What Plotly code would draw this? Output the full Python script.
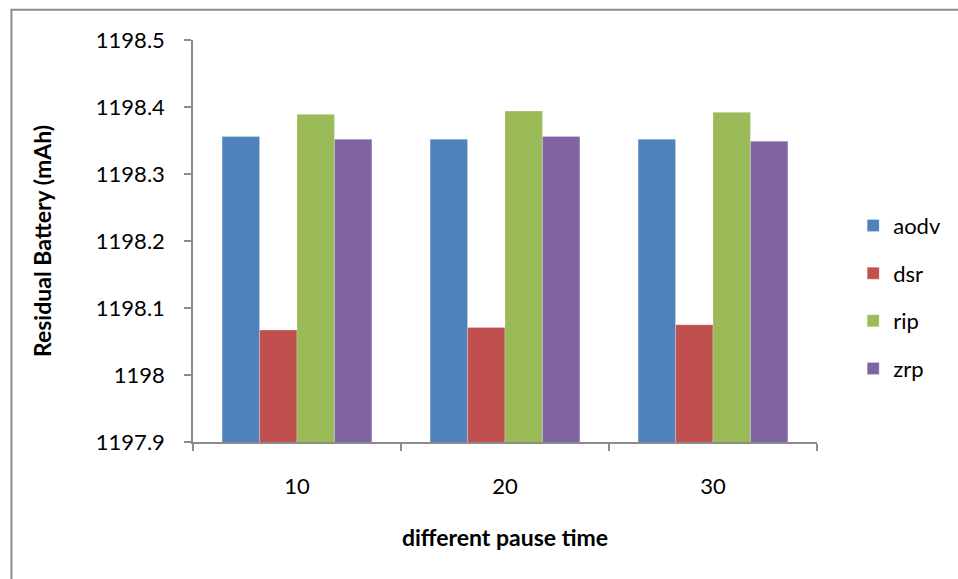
import plotly.graph_objects as go

categories = ["10", "20", "30"]
aodv = [1198.356, 1198.352, 1198.352]
dsr = [1198.067, 1198.071, 1198.075]
rip = [1198.389, 1198.394, 1198.392]
zrp = [1198.352, 1198.356, 1198.349]
series_names = ["aodv", "dsr", "rip", "zrp"]
series_values = [aodv, dsr, rip, zrp]
colors = ["#4F81BD", "#C0504D", "#9BBB59", "#8064A2"]
y_ticks = [1197.9, 1198, 1198.1, 1198.2, 1198.3, 1198.4, 1198.5]
y_tick_text = ["1197.9", "1198", "1198.1", "1198.2", "1198.3", "1198.4", "1198.5"]

FONT = "Lato, Carlito, Calibri, sans-serif"

fig = go.Figure()
for name, vals, col in zip(series_names, series_values, colors):
    fig.add_trace(go.Bar(
        x=categories, y=vals, name=name, legendgroup=name,
        marker=dict(color=col, line=dict(color="rgba(255,255,255,0.5)", width=0.5)),
    ))

fig.update_layout(
    width=958, height=579,
    margin=dict(l=193, r=133, t=40, b=137),
    paper_bgcolor="white", plot_bgcolor="white",
    barmode="group", bargap=0.28, bargroupgap=0,
    font=dict(family=FONT, size=22, color="black"),
    legend=dict(
        x=1.058, y=0.36, xanchor="left", yanchor="middle",
        font=dict(family=FONT, size=22, color="black"),
        tracegroupgap=16, itemwidth=30,
    ),
    xaxis=dict(
        type="category", tickson="boundaries",
        showline=True, linecolor="#8c8c8c", linewidth=1.5,
        ticks="outside", ticklen=7, tickcolor="#8c8c8c", tickwidth=1.5,
        showgrid=False, zeroline=False,
        tickfont=dict(family=FONT, size=22),
        ticklabelstandoff=24,
        title=dict(text="<b>different pause time</b>", font=dict(family=FONT, size=23), standoff=32),
    ),
    yaxis=dict(
        range=[1197.9, 1198.5],
        tickvals=y_ticks, ticktext=y_tick_text,
        showline=True, linecolor="#8c8c8c", linewidth=1.5,
        ticks="outside", ticklen=7, tickcolor="#8c8c8c", tickwidth=1.5,
        showgrid=False, zeroline=False,
        tickfont=dict(family=FONT, size=22),
        ticklabelstandoff=15,
        title=dict(text="<b>Residual Battery (mAh)</b>", font=dict(family=FONT, size=23), standoff=38),
    ),
)

fig.add_shape(type="rect", xref="paper", yref="paper",
              x0=-0.291, x1=1.3, y0=-0.5, y1=1.075,
              line=dict(color="#8c8c8c", width=2), fillcolor="rgba(0,0,0,0)", layer="below")

fig.write_html("out.html")
